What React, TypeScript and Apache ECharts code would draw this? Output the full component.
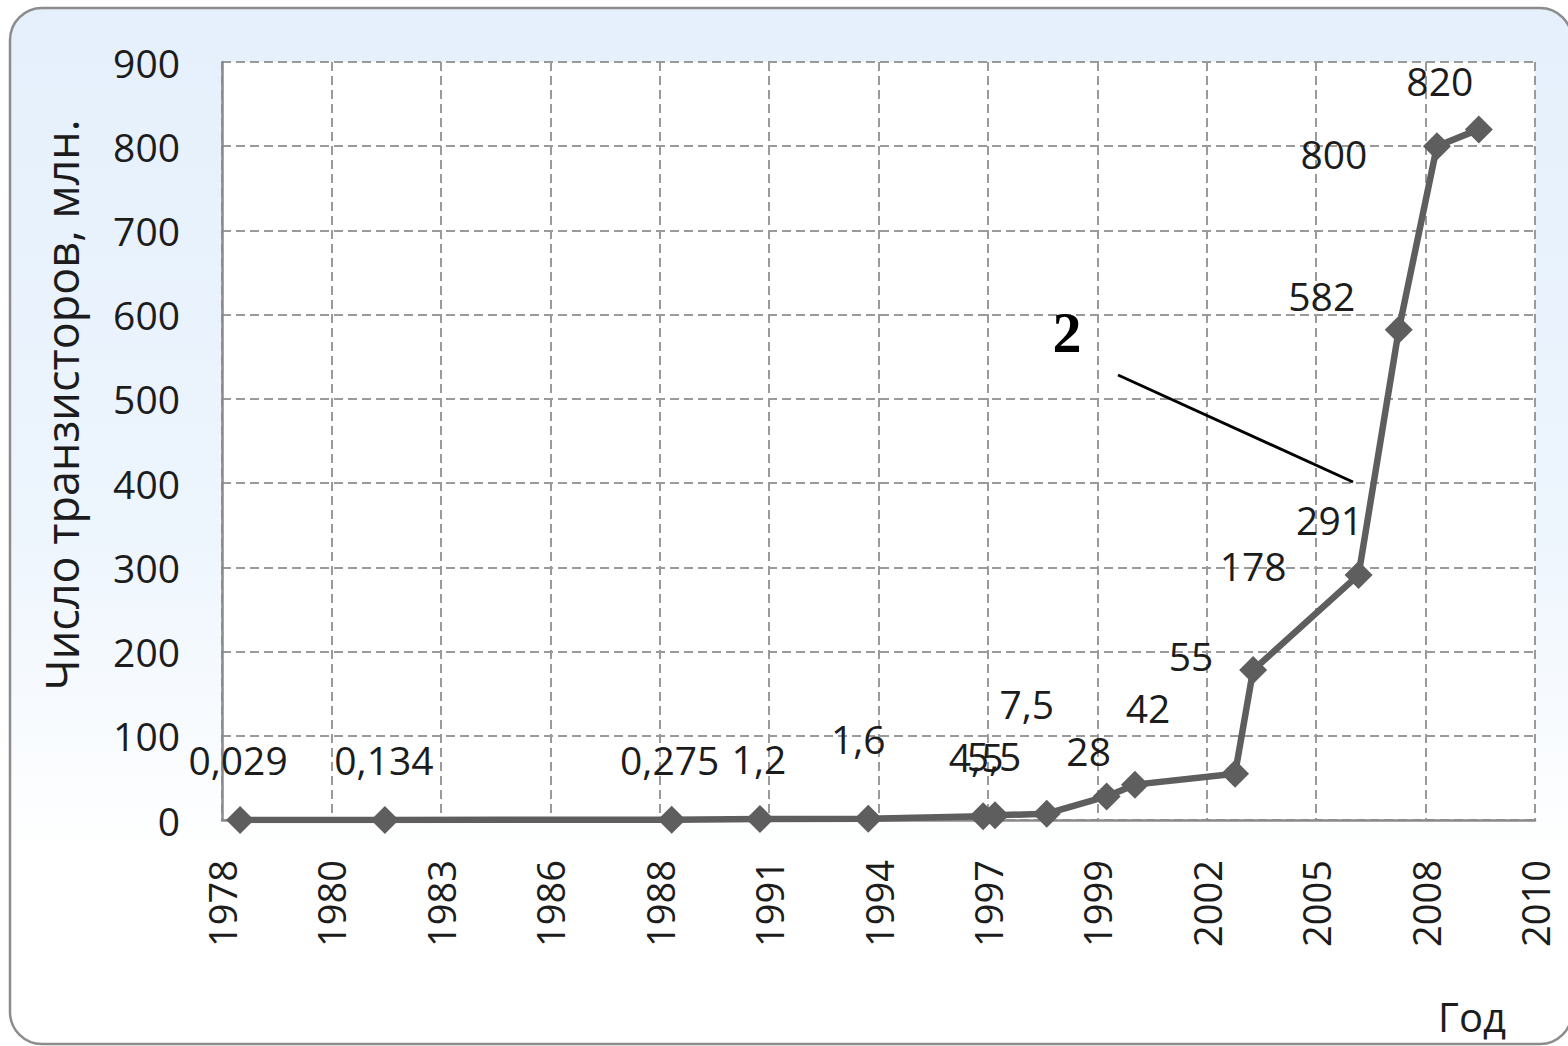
import React, { useEffect, useRef } from "react";
import * as echarts from "echarts";

// Year (position along the time axis) of every point
const years = [
  1978.44, 1981.97, 1988.96, 1991.11, 1993.75, 1996.55, 1996.84, 1998.1,
  1999.56, 2000.25, 2002.69, 2003.13, 2005.7, 2006.68, 2007.61, 2008.63,
];
// Number of transistors, millions
const transistors = [
  0.029, 0.134, 0.275, 1.2, 1.6, 4.5, 5.5, 7.5, 28, 42, 55, 178, 291, 582, 800, 820,
];
// Tick labels of the year axis (evenly spaced, as in the original)
const xTickLabels = [
  "1978", "1980", "1983", "1986", "1988", "1991", "1994",
  "1997", "1999", "2002", "2005", "2008", "2010",
];
const yMin = 0;
const yMax = 900;
const yStep = 100;
const xMin = 1978;
const xMax = 2010;

// Label placement (pixel offset of each data label from its point)
const labelOffsets: [number, number][] = [
  [-2, -60], [-1, -60], [-2, -60], [-1, -60], [-10, -80], [-7, -60], [-1, -60],
  [-20, -110], [-18, -46], [13, -77], [-44, -118], [0, -105], [-29, -55],
  [-77, -34], [-103, 7], [-39, -49],
];

const FONT = "Open Sans";
const TEXT = "#1c1c1c";
const GRID = "#9a9a9a";

export default function App() {
  const ref = useRef<HTMLDivElement>(null);

  useEffect(() => {
    document.body.style.margin = "0";
    if (!ref.current) return;
    const chart = echarts.init(ref.current, undefined, { renderer: "svg" });

    const data = years.map((y, i) => [y, transistors[i]]);

    chart.setOption({
      animation: false,
      backgroundColor: "transparent",
      graphic: [
        {
          type: "rect",
          z: -100,
          silent: true,
          shape: { x: 10, y: 8, width: 1562, height: 1036, r: 32 },
          style: {
            fill: new echarts.graphic.LinearGradient(0, 0, 0, 1, [
              { offset: 0, color: "#E5F0FC" },
              { offset: 0.5, color: "#EDF5FD" },
              { offset: 0.82, color: "#FFFFFF" },
              { offset: 1, color: "#FFFFFF" },
            ]),
            stroke: "#8c8c8c",
            lineWidth: 2.5,
          },
        },
        {
          type: "line",
          z: 100,
          shape: { x1: 1118, y1: 375, x2: 1353, y2: 482 },
          style: { stroke: "#000", lineWidth: 3 },
        },
        {
          type: "text",
          z: 100,
          x: 1067,
          y: 332,
          style: {
            text: "2",
            font: "bold 58px 'Liberation Serif'",
            fill: "#000",
            align: "center",
            verticalAlign: "middle",
          },
        },
        {
          type: "text",
          z: 100,
          x: 1472,
          y: 1016,
          style: {
            text: "Год",
            font: `40px '${FONT}'`,
            fill: TEXT,
            align: "center",
            verticalAlign: "middle",
          },
        },
        {
          type: "text",
          z: 100,
          x: 61,
          y: 405,
          rotation: Math.PI / 2,
          style: {
            text: "Число транзисторов, млн.",
            font: `45px '${FONT}'`,
            fill: TEXT,
            align: "center",
            verticalAlign: "middle",
          },
        },
      ],
      grid: {
        left: 222,
        right: 33,
        top: 62,
        bottom: 226,
        show: true,
        backgroundColor: "#ffffff",
        borderWidth: 0,
      },
      xAxis: [
        {
          type: "category",
          data: xTickLabels,
          boundaryGap: false,
          axisLine: { show: true, lineStyle: { color: "#8a8a8a", width: 2.5 } },
          axisTick: { show: false },
          axisLabel: {
            rotate: 90,
            margin: 40,
            color: TEXT,
            fontFamily: FONT,
            fontSize: 38,
            interval: 0,
          },
          splitLine: {
            show: true,
            lineStyle: { color: GRID, width: 2, type: [9, 5] },
          },
        },
        {
          type: "value",
          min: xMin,
          max: xMax,
          show: false,
          splitLine: { show: false },
        },
      ],
      yAxis: {
        type: "value",
        min: yMin,
        max: yMax,
        interval: yStep,
        axisLine: { show: true, lineStyle: { color: "#8a8a8a", width: 2.5 } },
        axisTick: { show: false },
        axisLabel: {
          margin: 42,
          color: TEXT,
          fontFamily: FONT,
          fontSize: 39,
        },
        splitLine: {
          show: true,
          lineStyle: { color: GRID, width: 2, type: [9, 5] },
        },
      },
      series: [
        {
          type: "line",
          xAxisIndex: 1,
          data,
          symbol: "diamond",
          symbolSize: 28,
          itemStyle: { color: "#5e5e5e" },
          lineStyle: { color: "#5e5e5e", width: 6.5 },
          z: 5,
          label: {
            show: true,
            position: "inside",
            color: TEXT,
            fontFamily: FONT,
            fontSize: 39,
            formatter: (p: any) => String(p.value[1]).replace(".", ","),
          },
          labelLayout: (p: any) => {
            const o = labelOffsets[p.dataIndex] || [0, 0];
            return { dx: o[0], dy: o[1], hideOverlap: false };
          },
        },
      ],
    });

    return () => chart.dispose();
  }, []);

  return <div ref={ref} style={{ width: 1568, height: 1046 }} />;
}
